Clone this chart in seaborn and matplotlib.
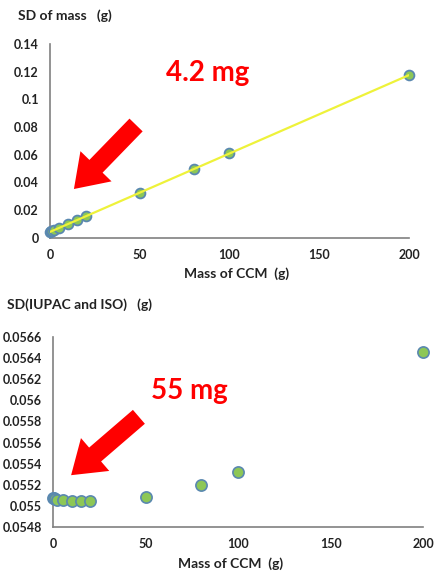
import numpy as np
import pandas as pd
import matplotlib
matplotlib.use("Agg")
import matplotlib.pyplot as plt
import seaborn as sns
from matplotlib.patches import FancyArrowPatch
from matplotlib.ticker import FuncFormatter

sns.set_style("white")
plt.rcParams['font.family'] = ['Lato', 'DejaVu Sans']

# Data
mass_ccm = [0, 0.5, 1, 2, 5, 10, 15, 20, 50, 80, 100, 200]
sd_mass = [0.0042, 0.0045, 0.0048, 0.0053, 0.0070, 0.0098, 0.0127, 0.0155,
           0.0325, 0.0495, 0.0610, 0.1175]
sd_iupac_iso = [0.05507, 0.05507, 0.05506, 0.05505, 0.05505, 0.05504, 0.05504,
                0.05504, 0.05508, 0.05520, 0.05532, 0.05646]
top_yticks = [0, 0.02, 0.04, 0.06, 0.08, 0.1, 0.12, 0.14]
bot_yticks = [0.0548, 0.055, 0.0552, 0.0554, 0.0556, 0.0558, 0.056, 0.0562, 0.0564, 0.0566]
xticks = [0, 50, 100, 150, 200]

df = pd.DataFrame({"mass": mass_ccm, "sd": sd_mass, "sd_iso": sd_iupac_iso})

W, H = 435, 575
fig = plt.figure(figsize=(W / 100, H / 100), dpi=100)

def px_axes(l, t, r, b):
    return fig.add_axes([l / W, 1 - b / H, (r - l) / W, (b - t) / H])

spine_col = "#808080"
fill_col = "#8dc756"
edge_col = "#5a88b0"

def fmt(v, _):
    return f"{v:.4f}".rstrip('0').rstrip('.')

def style(ax, yticks, ylim):
    ax.set_xlim(0, 200)
    ax.set_ylim(*ylim)
    ax.set_xticks(xticks)
    ax.set_yticks(yticks)
    ax.yaxis.set_major_formatter(FuncFormatter(fmt))
    for s in ["top", "right"]:
        ax.spines[s].set_visible(False)
    for s in ["left", "bottom"]:
        ax.spines[s].set_color(spine_col)
        ax.spines[s].set_linewidth(1.2)
    ax.tick_params(axis="both", direction="out", length=4, width=1.1, color=spine_col,
                   labelsize=9, pad=4, labelcolor="#222222")
    for lab in ax.get_xticklabels() + ax.get_yticklabels():
        lab.set_fontweight("bold")
    ax.set_xlabel("")
    ax.set_ylabel("")
    ax.grid(False)

# Top chart
ax1 = px_axes(50, 44, 409, 237.7)
sns.scatterplot(data=df, x="mass", y="sd", ax=ax1, s=50, color=fill_col,
                edgecolor=edge_col, linewidth=1.3, zorder=3, clip_on=False)
sns.regplot(data=df, x="mass", y="sd", ax=ax1, scatter=False, ci=None, truncate=True,
            line_kws={"color": "#eef23a", "lw": 1.6, "zorder": 4})
style(ax1, top_yticks, (0, 0.14))

# Bottom chart
ax2 = px_axes(53.3, 337.3, 423, 526.7)
sns.scatterplot(data=df, x="mass", y="sd_iso", ax=ax2, s=65, color=fill_col,
                edgecolor=edge_col, linewidth=1.2, zorder=3, clip_on=False)
style(ax2, bot_yticks, (0.0548, 0.0566))

# Texts
tkw = dict(fontsize=10, fontweight="bold", color="#222222", va="center", ha="left")
fig.text(18 / W, 1 - 16 / H, "SD of mass   (g)", **tkw)
fig.text(237 / W, 1 - 274 / H, "Mass of CCM  (g)", **{**tkw, "ha": "center"})
fig.text(7 / W, 1 - 305 / H, "SD(IUPAC and ISO)   (g)", **tkw)
fig.text(231 / W, 1 - 564 / H, "Mass of CCM  (g)", **{**tkw, "ha": "center"})

red = "#ff0000"
fig.text(208 / W, 1 - 73 / H, "4.2 mg", fontsize=20, fontweight="bold", color=red,
         ha="center", va="center")
fig.text(189 / W, 1 - 391 / H, "55 mg", fontsize=20, fontweight="bold", color=red,
         ha="center", va="center")

def arrow(x0, y0, x1, y1):
    p = FancyArrowPatch((x0 / W, 1 - y0 / H), (x1 / W, 1 - y1 / H),
                        transform=fig.transFigure,
                        arrowstyle="simple,head_width=2.6,head_length=1.9,tail_width=1.1",
                        mutation_scale=12, color=red, lw=0)
    fig.patches.append(p)

arrow(138, 123, 72, 191)
arrow(141, 415, 69, 477)

fig.savefig("out.png", dpi=100)
